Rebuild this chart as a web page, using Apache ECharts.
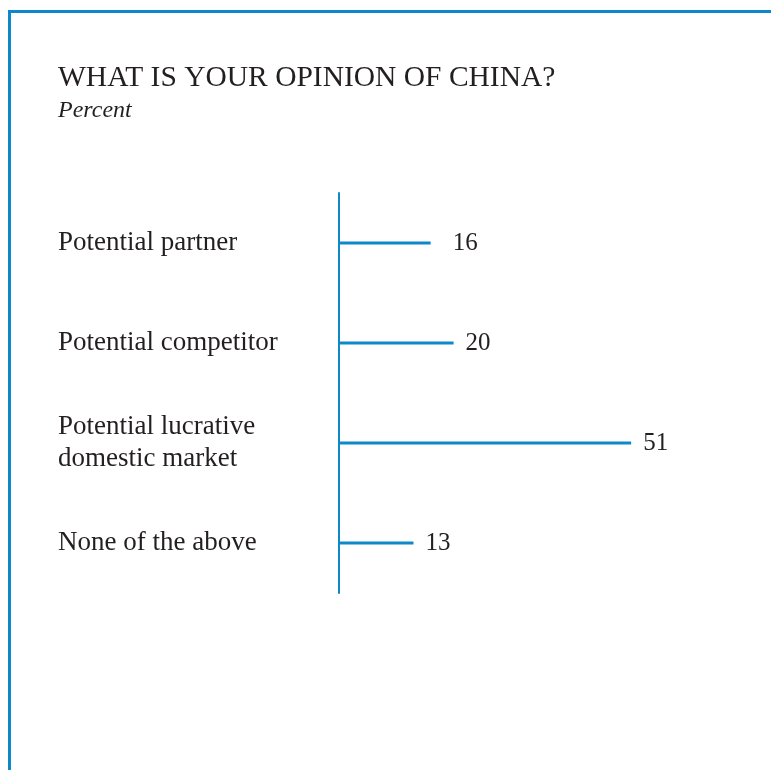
<!DOCTYPE html>
<html>
<head>
<meta charset="utf-8">
<script src="https://cdn.jsdelivr.net/npm/echarts@6/dist/echarts.min.js"></script>
<style>
  html, body { margin: 0; padding: 0; background: #ffffff; }
  #chart { width: 771px; height: 770px; }
</style>
</head>
<body>
<div id="chart"></div>
<script>
// Survey answers and their shares (percent)
const categories = [
  'Potential partner',
  'Potential competitor',
  'Potential lucrative\ndomestic market',
  'None of the above'
];
const values = [16, 20, 51, 13];

const titleText = 'WHAT IS YOUR OPINION OF CHINA?';
const subtitleText = 'Percent';

const BLUE = '#0d89c9';
const INK = '#231f20';
const SERIF = '"Liberation Serif", "DejaVu Serif", serif';

const chart = echarts.init(document.getElementById('chart'), null, { renderer: 'canvas' });

chart.setOption({
  animation: false,
  backgroundColor: '#ffffff',
  grid: { left: 339, top: 193, width: 401, height: 400, containLabel: false },
  xAxis: {
    type: 'value',
    min: 0,
    max: 70,
    show: false
  },
  yAxis: {
    type: 'category',
    data: categories,
    inverse: true,
    axisLine: { show: true, lineStyle: { color: BLUE, width: 2 } },
    axisTick: { show: false },
    axisLabel: {
      align: 'left',
      margin: 281,
      fontFamily: SERIF,
      fontSize: 27,
      lineHeight: 32,
      color: INK
    }
  },
  series: [{
    type: 'bar',
    data: values.map((v, i) => i === 0
      ? { value: v, label: { distance: 22 } }
      : v),
    barWidth: 3,
    itemStyle: { color: BLUE },
    label: {
      show: true,
      position: 'right',
      distance: 12,
      fontFamily: SERIF,
      fontSize: 25,
      color: INK
    }
  }],
  graphic: [
    // frame: top rule and left rule
    { type: 'line', silent: true,
      shape: { x1: 8, y1: 11.5, x2: 771, y2: 11.5 },
      style: { stroke: BLUE, lineWidth: 3 } },
    { type: 'line', silent: true,
      shape: { x1: 9.5, y1: 10, x2: 9.5, y2: 770 },
      style: { stroke: BLUE, lineWidth: 3 } },
    { type: 'text', silent: true, x: 58, y: 78,
      style: { text: titleText, font: '29.5px ' + SERIF, fill: INK, verticalAlign: 'middle' } },
    { type: 'text', silent: true, x: 58, y: 111,
      style: { text: subtitleText, font: 'italic 24px ' + SERIF, fill: INK, verticalAlign: 'middle' } }
  ]
});
</script>
</body>
</html>
